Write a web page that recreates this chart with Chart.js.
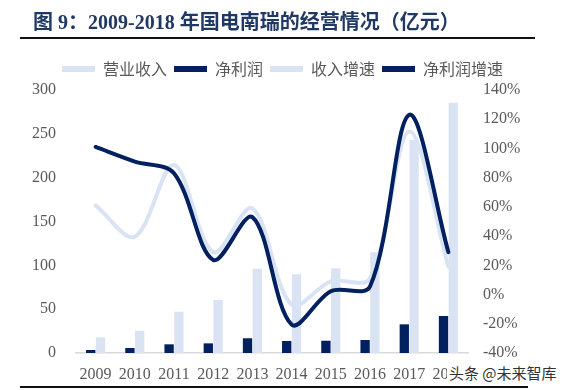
<!DOCTYPE html>
<html>
<head>
<meta charset="utf-8">
<script src="https://cdn.jsdelivr.net/npm/chart.js@4.4.1/dist/chart.umd.min.js"></script>
<style>
  html, body { margin: 0; padding: 0; background: #fff; }
  #wrap { position: relative; width: 565px; height: 390px; overflow: hidden; }
  #chart { position: absolute; left: 0; top: 0; }
  .title { position: absolute; left: 33px; top: 6px; font-family: "Liberation Serif", "Noto Sans CJK SC", serif; font-weight: bold; font-size: 20px; color: #203864; white-space: nowrap; }
  .rule { position: absolute; left: 20px; height: 2px; background: #111; }
  .mark { position: absolute; left: 447px; top: 362px; padding: 0 2px; background: #fff; font-family: "Noto Sans CJK SC", sans-serif; font-size: 15px; color: #333; white-space: nowrap; }
</style>
</head>
<body>
<div id="wrap">
  <canvas id="chart" width="565" height="390"></canvas>
  <div class="title">图 9：2009-2018 年国电南瑞的经营情况（亿元）</div>
  <div class="rule" style="top:37px; width:515px;"></div>
  <div class="rule" style="top:386px; width:508px;"></div>
  <div class="mark">头条 @未来智库</div>
</div>
<script>
// values
const years = ['2009', '2010', '2011', '2012', '2013', '2014', '2015', '2016', '2017', '2018'];
const revenue = [17.9, 25.4, 47.1, 60.5, 96.2, 89.8, 96.6, 114.9, 243.0, 285.5];
const netProfit = [3.4, 5.7, 9.9, 11.0, 16.8, 13.7, 14.0, 14.8, 32.7, 42.2];
const revenueGrowth = [61, 39.6, 88.7, 29, 59, -7, 9, 11, 111.5, 19];
const profitGrowth = [101, 91, 83, 23.7, 53, -20.5, 2.3, 5.5, 123, 29];

const leftTicks = { min: 0, max: 300, step: 50 };
const rightTicks = { min: -40, max: 140, step: 20 };

const lightBlue = '#d9e3f3';
const darkBlue = '#002060';
const tickColor = '#595959';
const tickFont = { family: '"Liberation Serif", serif', size: 16 };

// force legend height so the plot area starts where the reference does
const legendHeight = {
  id: 'legendHeight',
  beforeInit(chart) {
    const legend = chart.legend;
    if (!legend) return;
    const fit = legend.fit;
    legend.fit = function () {
      fit.call(this);
      this.height = 36;
    };
  }
};

const defaultLabels = Chart.defaults.plugins.legend.labels.generateLabels;

const ctx = document.getElementById('chart').getContext('2d');
new Chart(ctx, {
  type: 'bar',
  data: {
    labels: years,
    datasets: [
      {
        label: '营业收入',
        data: revenue,
        backgroundColor: lightBlue,
        yAxisID: 'y',
        order: 3,
        categoryPercentage: 0.5,
        barPercentage: 0.95
      },
      {
        label: '净利润',
        data: netProfit,
        backgroundColor: darkBlue,
        yAxisID: 'y',
        order: 2,
        categoryPercentage: 0.5,
        barPercentage: 0.95
      },
      {
        type: 'line',
        label: '收入增速',
        data: revenueGrowth,
        borderColor: lightBlue,
        backgroundColor: lightBlue,
        borderWidth: 4,
        borderCapStyle: 'round',
        pointRadius: 0,
        tension: 0.33,
        yAxisID: 'y1',
        order: 1
      },
      {
        type: 'line',
        label: '净利润增速',
        data: profitGrowth,
        borderColor: darkBlue,
        backgroundColor: darkBlue,
        borderWidth: 4,
        borderCapStyle: 'round',
        pointRadius: 0,
        tension: 0.33,
        yAxisID: 'y1',
        order: 0
      }
    ]
  },
  options: {
    responsive: false,
    animation: false,
    layout: { padding: { top: 54, left: 0, right: 0, bottom: 0 } },
    plugins: {
      tooltip: { enabled: false },
      legend: {
        position: 'top',
        labels: {
          boxWidth: 33,
          boxHeight: 6,
          padding: 7,
          color: tickColor,
          font: { family: '"Noto Sans CJK SC", sans-serif', size: 16 },
          sort: (a, b) => a.datasetIndex - b.datasetIndex,
          generateLabels(chart) {
            return defaultLabels(chart).map((item) => {
              item.lineWidth = 0;
              return item;
            });
          }
        }
      }
    },
    scales: {
      x: {
        grid: { display: false, drawTicks: false },
        border: { color: '#d9d9d9', width: 1.5 },
        ticks: { color: tickColor, font: tickFont, padding: 12, maxRotation: 0 },
        afterFit(scale) { scale.height = 37; }
      },
      y: {
        position: 'left',
        min: leftTicks.min,
        max: leftTicks.max,
        grid: { display: false, drawTicks: false },
        border: { display: false },
        ticks: { stepSize: leftTicks.step, color: tickColor, font: tickFont, padding: 20 },
        afterFit(scale) { scale.width = 76; }
      },
      y1: {
        position: 'right',
        min: rightTicks.min,
        max: rightTicks.max,
        grid: { display: false, drawTicks: false },
        border: { display: false },
        ticks: {
          stepSize: rightTicks.step,
          color: tickColor,
          font: tickFont,
          padding: 15,
          callback: (v) => v + '%'
        },
        afterFit(scale) { scale.width = 97; }
      }
    }
  },
  plugins: [legendHeight]
});
</script>
</body>
</html>
